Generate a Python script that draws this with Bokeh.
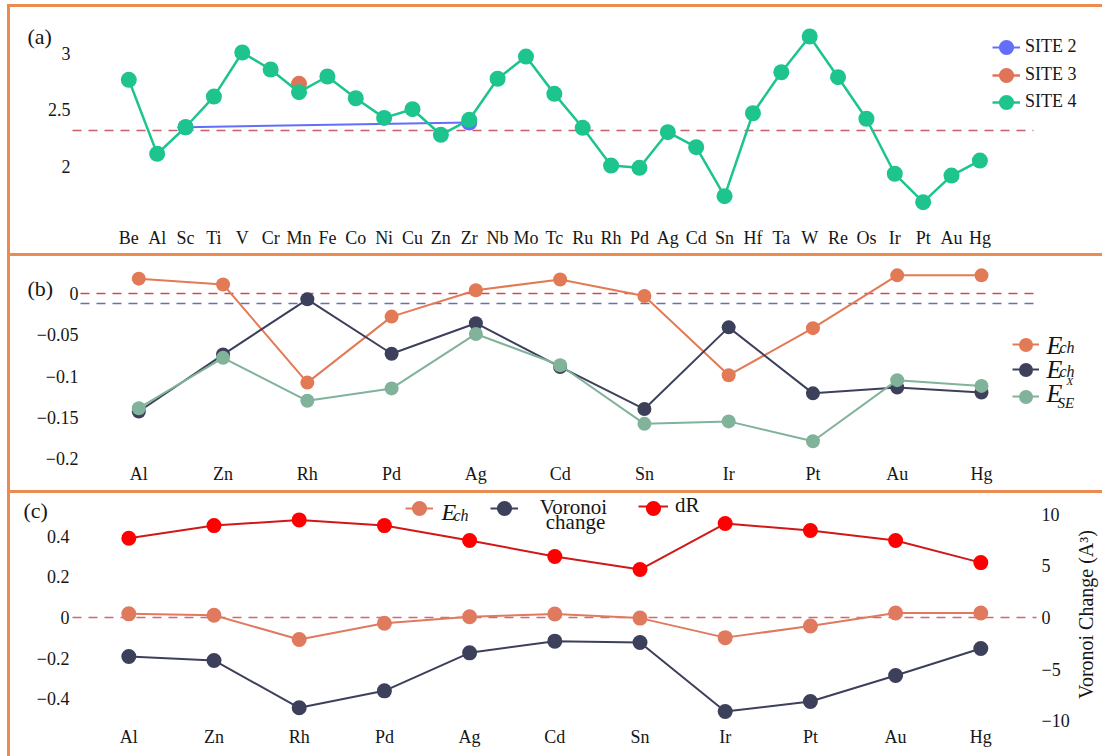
import math
from bokeh.plotting import figure
from bokeh.layouts import column
from bokeh.models import (Range1d, FixedTicker, CustomJSTickFormatter,
                          Legend, LegendItem, Label, LinearAxis)
from bokeh.core.properties import value
from bokeh.embed import file_html
from bokeh.resources import INLINE

SERIF = "Liberation Serif, serif"
BORDER = "#EC8B4F"
INK = "#161616"

# ---------------- (a) bond length per dopant and site ----------------
elements_a = ["Be", "Al", "Sc", "Ti", "V", "Cr", "Mn", "Fe", "Co", "Ni", "Cu",
              "Zn", "Zr", "Nb", "Mo", "Tc", "Ru", "Rh", "Pd", "Ag", "Cd", "Sn",
              "Hf", "Ta", "W", "Re", "Os", "Ir", "Pt", "Au", "Hg"]
site4_vals = [2.767, 2.110, 2.346, 2.618, 3.009, 2.858, 2.657, 2.796, 2.603,
              2.429, 2.506, 2.279, 2.412, 2.776, 2.973, 2.642, 2.341, 2.006,
              1.986, 2.302, 2.169, 1.734, 2.470, 2.834, 3.151, 2.790, 2.421,
              1.933, 1.681, 1.917, 2.050]
site2_elems = ["Sc", "Zr"]
site2_vals = [2.346, 2.388]
site3_elems = ["Mn"]
site3_vals = [2.731]
ref_a = 2.317
a_ticks = [2, 2.5, 3]

# ---------------- (b) energies for the selected dopants ----------------
elements_bc = ["Al", "Zn", "Rh", "Pd", "Ag", "Cd", "Sn", "Ir", "Pt", "Au", "Hg"]
ech_orange = [0.018, 0.011, -0.108, -0.028, 0.004, 0.017, -0.003, -0.099,
              -0.042, 0.022, 0.022]
ech_navy = [-0.143, -0.074, -0.007, -0.073, -0.036, -0.089, -0.140, -0.041,
            -0.121, -0.114, -0.120]
ese_x = [-0.139, -0.078, -0.130, -0.115, -0.049, -0.087, -0.158, -0.155,
         -0.179, -0.105, -0.112]
ref_b_red = 0.0
ref_b_blue = -0.012
b_ticks = [-0.2, -0.15, -0.1, -0.05, 0]

# ---------------- (c) dR, E_ch and Voronoi volume change ----------------
dR_vals = [0.390, 0.452, 0.480, 0.452, 0.379, 0.300, 0.236, 0.462, 0.428,
           0.379, 0.270]
voronoi_vals = [-3.78, -4.16, -8.74, -7.10, -3.42, -2.29, -2.42, -9.10,
                -8.13, -5.61, -3.00]
ref_c = 0.0
c_ticks = [-0.4, -0.2, 0, 0.2, 0.4]
vor_ticks = [-10, -5, 0, 5, 10]

C_SITE2 = "#636EFA"
C_SITE3 = "#DF7458"
C_SITE4 = "#1DC48E"
C_ORANGE = "#E27A55"
C_NAVY = "#3D405B"
C_SAGE = "#81B29A"
C_RED = "#FF0000"


def num_formatter():
    return CustomJSTickFormatter(code="""
        const v = Math.round(tick * 1000) / 1000;
        return (v < 0 ? '\\u2212' : '') + Math.abs(v).toString();
    """)


def cat_formatter(names):
    return CustomJSTickFormatter(args=dict(names=names), code="""
        const i = Math.round(tick);
        return (i >= 0 && i < names.length) ? names[i] : '';
    """)


def style_axes(p):
    for ax in p.axis:
        ax.axis_line_color = None
        ax.major_tick_line_color = None
        ax.minor_tick_line_color = None
        ax.major_tick_out = 0
        ax.major_tick_in = 0
        ax.major_label_text_font = SERIF
        ax.major_label_text_font_size = "18px"
        ax.major_label_text_color = INK


def make_fig(height, xr, yr, top, bottom, names, yticks, xstand, ystand):
    # the frame spans the whole canvas width; tick labels are pulled inwards
    p = figure(width=1095, height=height, x_range=Range1d(*xr),
               y_range=Range1d(*yr), output_backend="svg",
               toolbar_location=None, min_border_left=0, min_border_right=2,
               min_border_top=top, min_border_bottom=bottom,
               background_fill_color="white", border_fill_color="white")
    p.outline_line_color = None
    p.xgrid.visible = False
    p.ygrid.visible = False
    p.xaxis.ticker = FixedTicker(ticks=list(range(len(names))))
    p.xaxis.formatter = cat_formatter(names)
    p.xaxis.major_label_standoff = xstand
    p.yaxis.ticker = FixedTicker(ticks=yticks)
    p.yaxis.formatter = num_formatter()
    p.yaxis.major_label_standoff = ystand
    style_axes(p)
    p.styles = {"border-top": f"3px solid {BORDER}",
                "border-left": f"3px solid {BORDER}"}
    return p


def ref_line(p, level, x0, x1, color, **kw):
    p.segment(x0=[x0], y0=[level], x1=[x1], y1=[level], line_color=color,
              line_dash="9 7", line_width=1.5, **kw)


def add_key(p, cx, cy, line_r, dot_r, dot_d, text=None, font_size="18px",
            line_len=28, standoff=5):
    """Legend key centred at (cx, cy) in frame pixels: a line legend carrying
    the label and an overlaid marker legend sized to the plotted dots."""
    h = 20
    p.add_layout(Legend(
        items=[LegendItem(label=value(text if text else " "), renderers=[line_r])],
        location=(cx - line_len / 2, cy - h / 2),
        glyph_width=line_len, glyph_height=h, label_height=h,
        padding=0, margin=0, spacing=0, label_standoff=standoff,
        border_line_color=None, background_fill_alpha=0,
        label_text_font=SERIF,
        label_text_font_size=font_size if text else "1px",
        label_text_color=INK))
    box = int(round(dot_d / 0.4))
    p.add_layout(Legend(
        items=[LegendItem(label=value(" "), renderers=[dot_r])],
        location=(cx - box / 2, cy - box / 2),
        glyph_width=box, glyph_height=box, label_height=box,
        padding=0, margin=0, spacing=0, label_standoff=0,
        border_line_color=None, background_fill_alpha=0,
        label_text_font_size="1px"))


def add_text(p, x, y, text, size, style="normal", align="left",
             baseline="alphabetic", angle=0.0):
    p.add_layout(Label(x=x, y=y, x_units="screen", y_units="screen",
                       text=text, text_font=SERIF, text_font_size=size,
                       text_font_style=style, text_align=align,
                       text_baseline=baseline, text_color=INK, angle=angle))


# ======================= panel (a) =======================
xa = list(range(len(elements_a)))
x2 = [elements_a.index(e) for e in site2_elems]
x3 = [elements_a.index(e) for e in site3_elems]

p1 = make_fig(249, (-4.170, 34.357), (1.483, 3.293), 13, 32,
              elements_a, a_ticks, xstand=3, ystand=-60)
ref_line(p1, ref_a, -1.984, 31.89, "#C65F67")
l2 = p1.line(x2, site2_vals, line_color=C_SITE2, line_width=2)
d2 = p1.scatter(x2, site2_vals, size=16, fill_color=C_SITE2, line_color=None)
l3 = p1.line(x3, site3_vals, line_color=C_SITE3, line_width=2.5)
d3 = p1.scatter(x3, site3_vals, size=16, fill_color=C_SITE3, line_color=None)
l4 = p1.line(xa, site4_vals, line_color=C_SITE4, line_width=2.5)
d4 = p1.scatter(xa, site4_vals, size=16, fill_color=C_SITE4, line_color=None)

add_key(p1, 996, 177, l2, d2, 15, "SITE 2")
add_key(p1, 996, 149, l3, d3, 15, "SITE 3")
add_key(p1, 996, 122, l4, d4, 15, "SITE 4")
add_text(p1, 17, 188, "(a)", "22px", baseline="middle")

# ======================= panel (b) =======================
xb = list(range(len(elements_bc)))
p2 = make_fig(237, (-1.5225, 11.448), (-0.2024, 0.0376), 6, 33,
              elements_bc, b_ticks, xstand=3, ystand=-68)
ref_line(p2, ref_b_red, -0.692, 10.70, "#C94B5B")
ref_line(p2, ref_b_blue, -0.692, 10.70, "#6B6BB6")
lo = p2.line(xb, ech_orange, line_color=C_ORANGE, line_width=2)
do = p2.scatter(xb, ech_orange, size=14, fill_color=C_ORANGE, line_color=None)
ln = p2.line(xb, ech_navy, line_color=C_NAVY, line_width=2)
dn = p2.scatter(xb, ech_navy, size=14, fill_color=C_NAVY, line_color=None)
lg = p2.line(xb, ese_x, line_color=C_SAGE, line_width=2)
dg = p2.scatter(xb, ese_x, size=14, fill_color=C_SAGE, line_color=None)

add_key(p2, 1015, 116, lo, do, 14, line_len=27)
add_key(p2, 1015, 91, ln, dn, 14, line_len=27)
add_key(p2, 1015, 64, lg, dg, 14, line_len=27)
add_text(p2, 1036, 115, "E", "26px", "italic")
add_text(p2, 1049, 113, "ch", "16px", "italic")
add_text(p2, 1036, 91, "E", "26px", "italic")
add_text(p2, 1049, 89, "ch", "16px", "italic")
add_text(p2, 1036, 67, "E", "26px", "italic")
add_text(p2, 1056, 80, "X", "11px", "italic")
add_text(p2, 1047, 58, "SE", "15px", "italic")
add_text(p2, 17, 172, "(b)", "22px", baseline="middle")

# ======================= panel (c) =======================
p3 = make_fig(266, (-1.3885, 11.44), (-0.5263, 0.6099), 0, 35,
              elements_bc, c_ticks, xstand=2, ystand=-59)
p3.extra_y_ranges = {"vor": Range1d(-10.358, 12.004)}
vor_axis = LinearAxis(y_range_name="vor", ticker=FixedTicker(ticks=vor_ticks),
                      formatter=num_formatter(), major_label_standoff=-62)
p3.add_layout(vor_axis, "right")
style_axes(p3)
ref_line(p3, ref_c, -0.661, 10.654, "#D8666A")
le = p3.line(xb, ech_orange, line_color="#E07A5F", line_width=2)
de = p3.scatter(xb, ech_orange, size=15, fill_color="#E07A5F", line_color=None)
lv = p3.line(xb, voronoi_vals, y_range_name="vor", line_color=C_NAVY, line_width=2)
dv = p3.scatter(xb, voronoi_vals, y_range_name="vor", size=15,
                fill_color=C_NAVY, line_color=None)
lr = p3.line(xb, dR_vals, line_color="#D01818", line_width=2)
dr = p3.scatter(xb, dR_vals, size=15, fill_color=C_RED, line_color=None)

add_key(p3, 409, 216, le, de, 15)
add_key(p3, 494, 216, lv, dv, 15)
add_key(p3, 643, 216, lr, dr, 15, "dR", font_size="21px", line_len=30, standoff=7)
add_text(p3, 431, 213, "E", "24px", "italic")
add_text(p3, 443, 209, "ch", "16px", "italic")
add_text(p3, 563, 218, "Voronoi", "21px", align="center")
add_text(p3, 565, 203, "change", "21px", align="center")
add_text(p3, 1075, 110, "Voronoi Change (A\u00b3)", "20px", align="center",
         baseline="middle", angle=math.pi / 2)
add_text(p3, 13, 214, "(c)", "22px", baseline="middle")

layout = column(p1, p2, p3, spacing=0, margin=(4, 0, 0, 7))

with open("out.html", "w") as f:
    f.write(file_html(layout, INLINE))
